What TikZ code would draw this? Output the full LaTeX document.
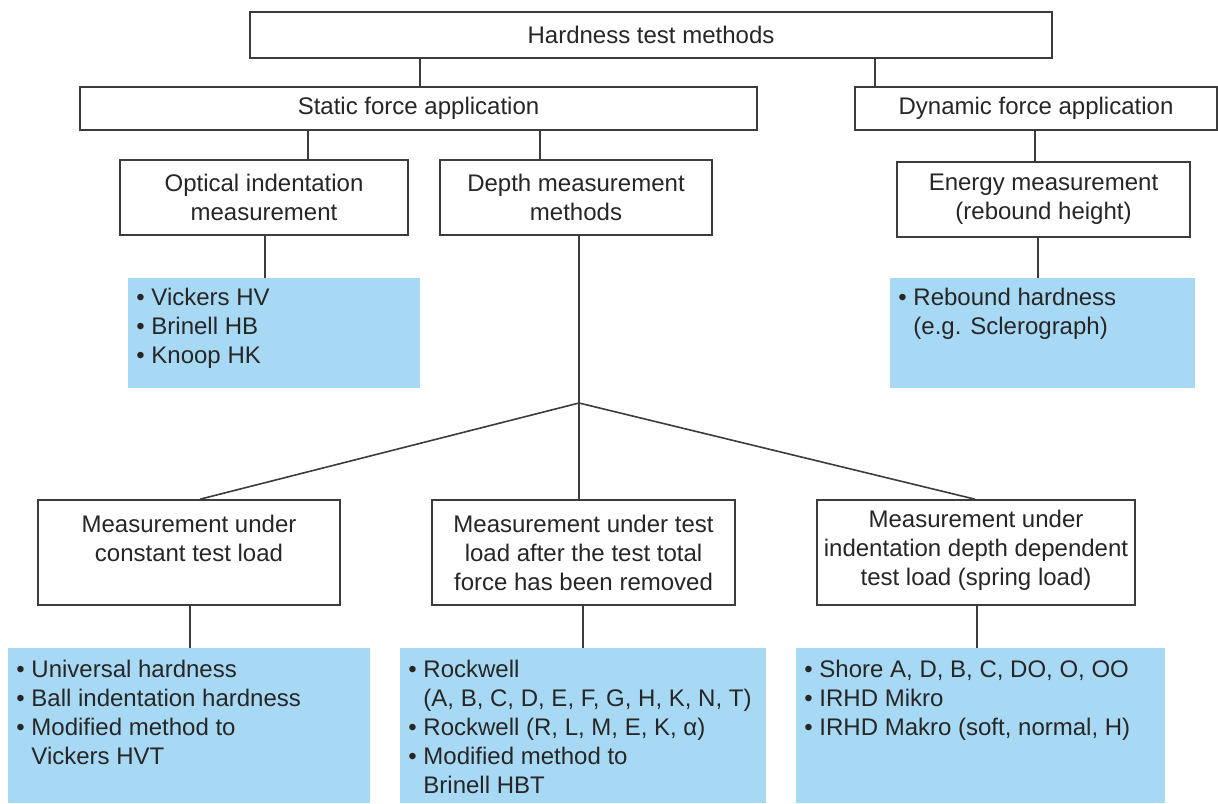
\documentclass[tikz,border=0pt]{standalone}
\usepackage{fontspec}
\setmainfont{Liberation Sans}
\usetikzlibrary{shadows}
\definecolor{listblue}{RGB}{168,217,244}
\definecolor{linegray}{RGB}{60,60,60}
\newcommand{\blist}[3]{\parbox[c][#2][t]{#1}{\raggedright #3}}
\newcommand{\ind}{\phantom{\textbullet~}}

\begin{document}
\begin{tikzpicture}[x=0.5pt,y=-0.5pt,
  every node/.style={font=\fontsize{12}{14.5}\selectfont, text=black!85},
  mbox/.style={draw=linegray, line width=0.8pt, fill=white, align=center, inner sep=0pt,
    drop shadow={shadow xshift=0.4pt, shadow yshift=-0.7pt, fill=linegray, opacity=1}},
  lst/.style={fill=listblue, anchor=north west, inner xsep=4pt, inner ysep=5pt},
  con/.style={draw=linegray, line width=0.8pt}]
\useasboundingbox (0,0) rectangle (1218,803);
% upper part
\node[mbox, minimum width=401pt, minimum height=23pt] (top) at (651,35) {Hardness test methods};
\node[mbox, minimum width=338.5pt, minimum height=21.5pt] (static) at (418.5,108.5) {Static force application};
\node[mbox, minimum width=181pt, minimum height=21.5pt] (dyn) at (1036,108.5) {Dynamic force application};
\node[mbox, minimum width=144pt, minimum height=37.5pt] (optical) at (264,197.5) {Optical indentation\\measurement};
\node[mbox, minimum width=136pt, minimum height=37.5pt] (depth) at (576,197.5) {Depth measurement\\methods};
\node[mbox, minimum width=146.5pt, minimum height=37.5pt] (energy) at (1043.5,199.5) {Energy measurement\\(rebound height)};
\node[lst] (vick) at (128,278) {\blist{138pt}{45pt}{\textbullet~Vickers HV\\\textbullet~Brinell HB\\\textbullet~Knoop HK}};
\node[lst] (rebound) at (890,278) {\blist{144.5pt}{45pt}{\textbullet~Rebound hardness\\\ind(e.g. Sclerograph)}};
% lower part
\node[mbox, minimum width=151pt, minimum height=52.5pt] (const) at (189,552.5) {Measurement under\\constant test load\\~};
\node[mbox, minimum width=151.5pt, minimum height=52.5pt] (after) at (583.5,552.5) {Measurement under test\\load after the test total\\force has been removed};
\node[mbox, minimum width=159pt, minimum height=52.5pt] (spring) at (976,552.5) {Measurement under\\indentation depth dependent\\test load (spring load)\strut};
\node[lst, inner ysep=6pt] (univ) at (8,648) {\blist{173pt}{65.5pt}{\textbullet~Universal hardness\\\textbullet~Ball indentation hardness\\\textbullet~Modified method to\\\ind Vickers HVT}};
\node[lst, inner ysep=6pt] (rock) at (400,648) {\blist{175pt}{65.5pt}{\textbullet~Rockwell\\\ind(A, B, C, D, E, F, G, H, K, N, T)\\\textbullet~Rockwell (R, L, M, E, K, α)\\\textbullet~Modified method to\\\ind Brinell HBT}};
\node[lst, inner ysep=6pt] (shore) at (796,648) {\blist{176.5pt}{65.5pt}{\textbullet~Shore A, D, B, C, DO, O, OO\\\textbullet~IRHD Mikro\\\textbullet~IRHD Makro (soft, normal, H)}};
% connectors
\foreach \x/\a/\b in {420/top/static, 875/top/dyn, 308/static/optical, 540/static/depth, 1035/dyn/energy,
  265/optical/vick, 1038/energy/rebound, 190/const/univ, 583/after/rock, 977/spring/shore}
  \draw[con] (\x,0 |- \a.south) -- (\x,0 |- \b.north);
\coordinate (split) at (579,403);
\draw[con] (split |- depth.south) -- (split);
\draw[con] (split) -- (200,0 |- const.north); \draw[con] (split) -- (split |- after.north); \draw[con] (split) -- (975,0 |- spring.north);
\end{tikzpicture}
\end{document}
